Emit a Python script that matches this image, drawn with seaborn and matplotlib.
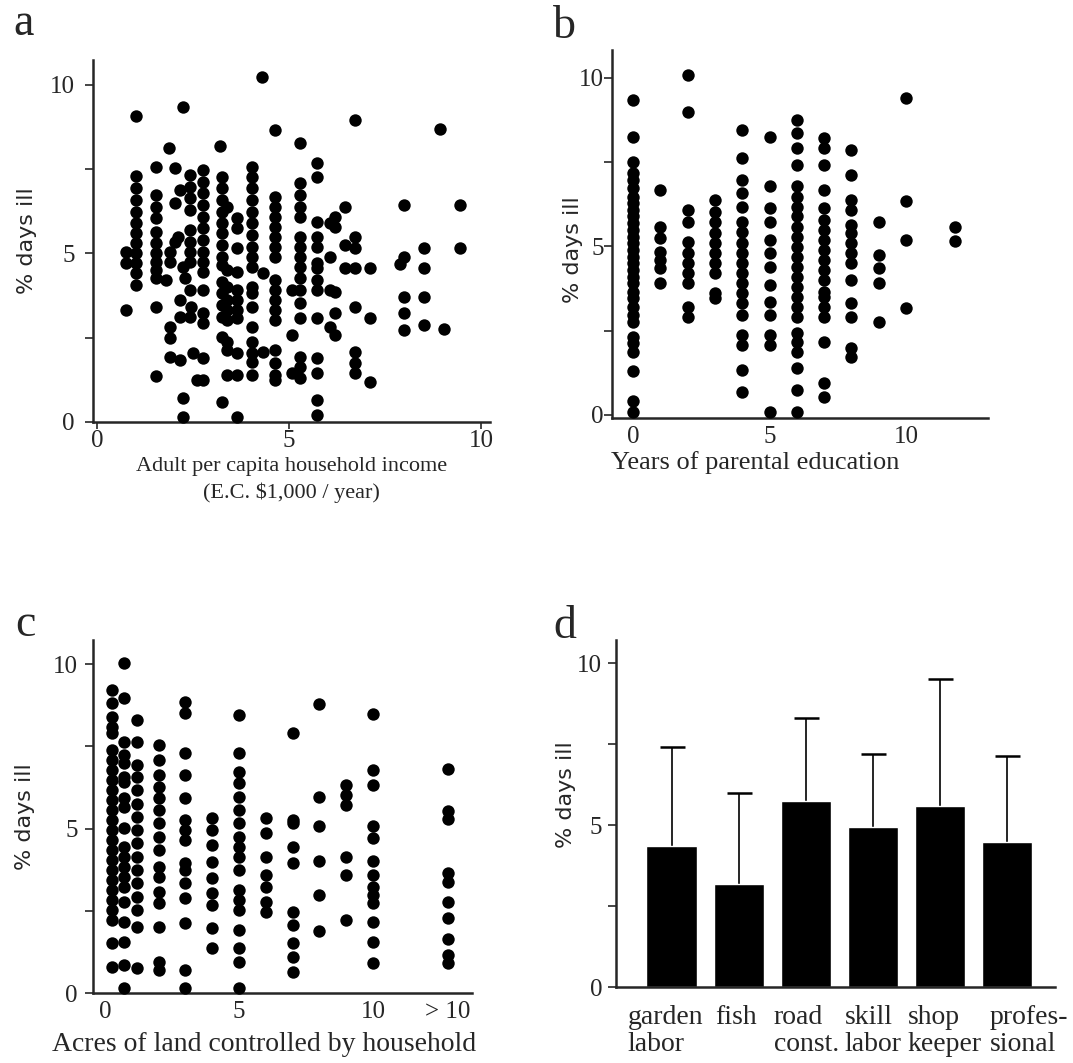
import numpy as np
import pandas as pd
import seaborn as sns
import matplotlib.pyplot as plt
import matplotlib.transforms as mtransforms

# ---- panel a: income vs % days ill (column x, y values in that column)
a_x = [0.77, 1.03, 1.54, 1.80, 1.88, 1.90, 2.03, 2.12, 2.16, 2.25, 2.29, 2.42, 2.45,
       2.51, 2.60, 2.77, 3.20, 3.25, 3.38, 3.64, 4.03, 4.29, 4.33, 4.64, 5.07, 5.29,
       5.72, 6.07, 6.20, 6.46, 6.72, 7.11, 7.89, 7.98, 8.50, 8.92, 9.04, 9.45]
a_y = [[5.05, 4.73, 3.32],
       [9.08, 7.30, 6.93, 6.59, 6.24, 5.90, 5.60, 5.30, 5.00, 4.71, 4.41, 4.07],
       [7.58, 6.74, 6.39, 6.04, 5.65, 5.30, 5.00, 4.76, 4.51, 4.26, 3.42, 1.37],
       [4.21],
       [8.12],
       [5.05, 4.76, 2.83, 2.48, 1.94],
       [7.53, 6.49, 5.35],
       [5.50],
       [6.88, 3.62, 3.13, 1.84],
       [9.36, 4.61, 0.70, 0.16],
       [4.26],
       [7.33, 6.98, 6.64, 6.29, 5.70, 5.35, 5.05, 4.76, 3.92, 3.13],
       [3.42],
       [2.04],
       [1.25],
       [7.48, 7.13, 6.79, 6.44, 6.09, 5.75, 5.40, 5.05, 4.76, 4.46, 3.92, 3.22, 2.93, 1.89, 1.25],
       [8.19],
       [7.28, 6.93, 6.59, 6.24, 5.90, 5.60, 5.25, 4.91, 4.66, 4.16, 3.82, 3.47, 3.13, 2.53, 0.60],
       [6.39, 4.51, 4.02, 3.62, 3.32, 3.03, 2.38, 2.14, 1.40],
       [6.04, 5.75, 5.15, 4.46, 3.92, 3.62, 3.32, 3.08, 2.04, 1.40, 0.16],
       [7.58, 7.28, 6.93, 6.59, 6.24, 5.90, 5.55, 5.20, 4.91, 4.61, 4.02, 3.82, 3.42, 2.83,
        2.38, 2.04, 1.79, 1.40],
       [10.25],
       [4.41, 2.09],
       [8.66, 6.69, 6.39, 6.09, 5.80, 5.50, 5.20, 4.91, 4.21, 3.92, 3.62, 3.32, 3.03, 2.14,
        1.74, 1.40, 1.25],
       [3.92, 2.58, 1.44],
       [8.27, 7.08, 6.74, 6.39, 6.09, 5.50, 5.20, 4.91, 4.61, 4.26, 3.92, 3.52, 3.08, 1.94,
        1.64, 1.30],
       [7.68, 7.28, 5.94, 5.50, 5.20, 4.71, 4.56, 4.21, 3.92, 3.08, 1.89, 1.44, 0.65, 0.21],
       [5.90, 4.91, 3.92, 2.83],
       [6.09, 5.80, 3.87, 3.22, 2.58],
       [6.39, 5.25, 4.56],
       [8.96, 5.50, 5.15, 4.56, 3.42, 2.09, 1.74, 1.44],
       [4.56, 3.08, 1.20],
       [4.69],
       [6.44, 4.91, 3.72, 3.22, 2.73],
       [5.15, 4.56, 3.72, 2.88],
       [8.68],
       [2.75],
       [6.44, 5.15]]

# ---- panel b: years of parental education
b_x = [0, 1, 2, 3, 4, 5, 6, 7, 8, 9, 10, 11.8]
b_y = [[9.35, 8.26, 7.52, 7.17, 6.97, 6.73, 6.48, 6.28, 6.08, 5.89, 5.69, 5.49, 5.29, 5.09,
        4.90, 4.70, 4.50, 4.30, 4.10, 3.91, 3.66, 3.46, 3.21, 2.97, 2.77, 2.32, 2.13, 1.88,
        1.29, 0.40, 0.10],
       [6.68, 5.59, 5.24, 4.85, 4.60, 4.35, 3.91],
       [10.09, 9.00, 6.08, 5.74, 5.14, 4.80, 4.50, 4.20, 3.91, 3.21, 2.92],
       [6.38, 6.03, 5.74, 5.39, 5.09, 4.80, 4.50, 4.20, 3.61, 3.46],
       [8.46, 7.62, 6.97, 6.58, 6.18, 5.74, 5.44, 5.09, 4.80, 4.50, 4.20, 3.91, 3.61, 3.31,
        2.97, 2.37, 2.08, 1.34, 0.69],
       [8.26, 6.78, 6.13, 5.74, 5.19, 4.80, 4.40, 3.86, 3.36, 2.97, 2.37, 2.08, 0.10],
       [8.75, 8.36, 7.91, 7.42, 6.78, 6.48, 6.18, 5.89, 5.59, 5.29, 4.99, 4.70, 4.40, 4.10,
        3.81, 3.51, 3.21, 2.92, 2.42, 2.18, 1.88, 1.38, 0.74, 0.10],
       [8.21, 7.91, 7.42, 6.68, 6.13, 5.79, 5.49, 5.19, 4.90, 4.60, 4.30, 4.01, 3.66, 3.51,
        3.21, 2.92, 2.18, 0.94, 0.54],
       [7.86, 7.12, 6.38, 6.08, 5.64, 5.39, 5.09, 4.80, 4.50, 4.01, 3.31, 2.92, 1.98, 1.73],
       [5.74, 4.75, 4.35, 3.91, 2.77],
       [9.40, 6.35, 5.19, 3.17],
       [5.59, 5.16]]

# ---- panel c: acres of land (12.8 = the "> 10" group)
c_x = [0.25, 0.7, 1.2, 2, 3, 4, 5, 6, 7, 8, 9, 10, 12.8]
c_y = [[9.21, 8.80, 8.40, 8.10, 7.89, 7.39, 7.08, 6.78, 6.47, 6.17, 5.87, 5.56, 5.26, 4.95,
        4.65, 4.35, 4.04, 3.74, 3.43, 3.13, 2.83, 2.52, 2.22, 1.51, 0.80],
       [10.02, 8.96, 7.64, 7.23, 6.98, 6.58, 6.42, 5.92, 5.66, 5.01, 4.45, 4.14, 3.84, 3.54,
        3.23, 2.78, 2.17, 1.56, 0.85, 0.15],
       [8.30, 7.64, 6.93, 6.58, 6.17, 5.76, 5.36, 4.95, 4.55, 4.14, 3.74, 3.33, 2.93, 2.52,
        2.02, 0.75],
       [7.54, 7.08, 6.63, 6.27, 5.92, 5.56, 5.16, 4.75, 4.35, 3.84, 3.54, 3.08, 2.73, 2.02,
        0.95, 0.70],
       [8.86, 8.50, 7.28, 6.63, 5.92, 5.26, 4.95, 4.65, 3.94, 3.74, 3.33, 2.88, 2.12, 0.70, 0.15],
       [5.31, 4.95, 4.50, 3.99, 3.49, 3.03, 2.67, 1.97, 1.36],
       [8.45, 7.28, 6.73, 6.37, 5.97, 5.56, 5.16, 4.75, 4.45, 4.14, 3.74, 3.13, 2.83, 2.52,
        1.91, 1.36, 0.95, 0.15],
       [5.31, 4.85, 4.14, 3.59, 3.23, 2.78, 2.47],
       [7.89, 5.26, 5.16, 4.45, 3.94, 2.47, 2.07, 1.51, 1.10, 0.65],
       [8.77, 5.97, 5.08, 4.01, 2.98, 1.89],
       [6.32, 6.02, 5.71, 4.14, 3.59, 2.22],
       [8.48, 6.78, 6.32, 5.08, 4.70, 4.01, 3.59, 3.23, 2.98, 2.73, 2.17, 1.56, 0.90],
       [6.80, 5.54, 5.28, 3.64, 3.38, 2.76, 2.29, 1.65, 1.16, 0.90]]

# ---- panel d: occupation
d_jobs = ["garden\nlabor", "fish", "road\nconst.", "skill\nlabor", "shop\nkeeper", "profes-\nsional"]
d_mean = [4.36, 3.18, 5.74, 4.95, 5.60, 4.49]
d_err = [3.06, 2.82, 2.57, 2.23, 3.91, 2.65]


def expand(xs, ys):
    rows = [(x, y) for x, col in zip(xs, ys) for y in col]
    return pd.DataFrame(rows, columns=["x", "ill"])


sns.set_style("ticks")
plt.rcParams["font.family"] = ["Liberation Serif", "DejaVu Serif"]
plt.rcParams["font.size"] = 18

W, H = 1073, 1063
fig = plt.figure(figsize=(W / 100, H / 100), dpi=100)


def axes_px(left, top, right, bottom):
    return fig.add_axes([left / W, 1 - bottom / H, (right - left) / W, (bottom - top) / H])


ax_a = axes_px(93, 60, 490, 422)
ax_b = axes_px(612, 50, 988, 418)
ax_c = axes_px(93, 640, 472, 993)
ax_d = axes_px(616, 640, 1055, 987)

for ax, xs, ys in [(ax_a, a_x, a_y), (ax_b, b_x, b_y), (ax_c, c_x, c_y)]:
    df = expand(xs, ys)
    sns.scatterplot(data=df, x="x", y="ill", color="black", s=80, linewidth=0,
                    clip_on=False, zorder=3, ax=ax)

sns.barplot(x=d_jobs, y=d_mean, color="black", saturation=1, width=0.75,
            errorbar=None, ax=ax_d)
# whiskers drawn behind the bars, so only the upper half shows
ax_d.errorbar(range(len(d_mean)), d_mean, yerr=d_err, fmt="none", ecolor="black",
              elinewidth=1.2, capsize=9, capthick=1.8, zorder=0.5)

ax_a.set_xlim(-0.1, 10.23)
ax_a.set_ylim(0, 10.74)
ax_b.set_xlim(-0.77, 13.0)
ax_b.set_ylim(-0.09, 10.83)
ax_c.set_xlim(-0.45, 13.69)
ax_c.set_ylim(0, 10.73)
ax_d.set_xlim(-0.83, 5.72)
ax_d.set_ylim(0, 10.71)

ax_a.set_xticks([0, 5, 10], labels=["0", "5", "10"])
ax_b.set_xticks([0, 5, 10], labels=["0", "5", "10"])
ax_c.set_xticks([0, 5, 10, 12.8], labels=["0", "5", "10", "> 10"])

ylab_pos = {ax_a: (-0.166, 0.5), ax_b: (-0.104, 0.457), ax_c: (-0.179, 0.5), ax_d: (-0.114, 0.553)}
ytick_pad = {ax_a: 7, ax_b: 0, ax_c: 5, ax_d: 4}
for ax in [ax_a, ax_b, ax_c, ax_d]:
    sns.despine(ax=ax)
    for s in ["left", "bottom"]:
        ax.spines[s].set_linewidth(1.8)
    ax.set_yticks([0, 2.5, 5, 7.5, 10], labels=["0", "", "5", "", "10"])
    ax.tick_params(axis="y", length=6, width=1.2, pad=ytick_pad[ax], labelsize=18)
    ax.tick_params(axis="x", length=0, pad=6, labelsize=18)
    ax.set_ylabel("% days ill", family="DejaVu Sans", fontsize=16, va="center")
    ax.yaxis.set_label_coords(*ylab_pos[ax])
    ax.set_xlabel("")

ax_a.tick_params(axis="x", length=5, width=1.2, pad=1)

# occupation labels: left-aligned blocks starting near each bar (offsets in px)
d_shift = [-44, -23, -32, -28, -32, -17]
ax_d.tick_params(axis="x", pad=13, labelsize=20)
for lbl, dx in zip(ax_d.get_xticklabels(), d_shift):
    lbl.set_ha("left")
    lbl.set_multialignment("left")
    lbl.set_linespacing(1.1)
    lbl.set_transform(lbl.get_transform()
                      + mtransforms.ScaledTranslation(dx / 100, 0, fig.dpi_scale_trans))

ax_a.set_xlabel("Adult per capita household income\n(E.C. $1,000 / year)", fontsize=16,
                va="center", linespacing=1.4)
ax_a.xaxis.set_label_coords(0.5, -0.16)
ax_b.set_xlabel("Years of parental education", fontsize=19, va="center")
ax_b.xaxis.set_label_coords(0.38, -0.122)
ax_c.set_xlabel("Acres of land controlled by household", fontsize=20, va="center")
ax_c.xaxis.set_label_coords(0.451, -0.147)

for letter, px, py in [("a", 13, 35), ("b", 553, 38), ("c", 15, 636), ("d", 553, 638)]:
    fig.text(px / W, 1 - py / H, letter, fontsize=33, va="baseline", ha="left")

fig.savefig("out.png", dpi=100)
